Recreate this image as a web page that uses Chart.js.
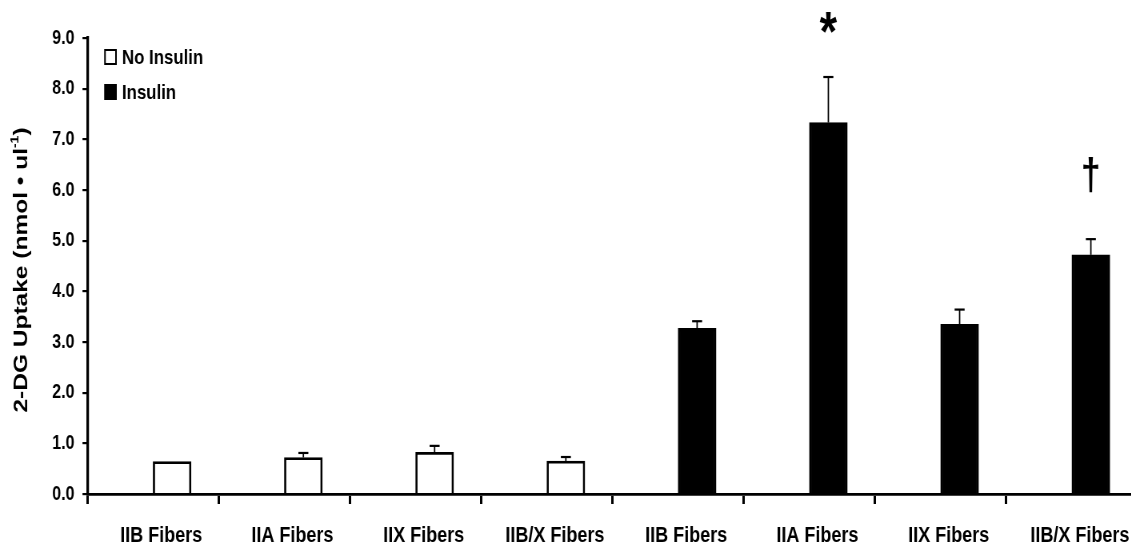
<!DOCTYPE html>
<html>
<head>
<meta charset="utf-8">
<script src="https://cdn.jsdelivr.net/npm/chart.js@4.4.1/dist/chart.umd.min.js"></script>
<style>
  body { margin: 0; background: #fff; overflow: hidden; }
  #wrap { width: 1131px; height: 548px; overflow: hidden; }
  /* figure is laid out wide and squeezed horizontally, like the printed version */
  #stage { width: 1440px; height: 548px; transform: scaleX(0.8); transform-origin: 0 0; }
</style>
</head>
<body>
<div id="wrap"><div id="stage"><canvas id="uptake" width="1440" height="548"></canvas></div></div>
<script>
// fiber groups, first four without insulin, last four with insulin
const fibers = ['IIB Fibers', 'IIA Fibers', 'IIX Fibers', 'IIB/X Fibers',
                'IIB Fibers', 'IIA Fibers', 'IIX Fibers', 'IIB/X Fibers'];

const noInsulin    = [0.64, 0.72, 0.82, 0.65, null, null, null, null];
const noInsulinSem = [0,    0.09, 0.13, 0.08, null, null, null, null];

const insulin    = [null, null, null, null, 3.27, 7.33, 3.35, 4.72];
const insulinSem = [null, null, null, null, 0.14, 0.90, 0.29, 0.31];

// significance marks over the insulin bars
const marks = ['', '', '', '', '', '*', '', '\u2020'];

const yTicks = [0, 1, 2, 3, 4, 5, 6, 7, 8, 9];

const SQ = 0.8;            // horizontal squeeze of #stage
const hx = v => v / SQ;    // horizontal length before the squeeze
const SANS = "'Liberation Sans', Arial, sans-serif";

// empty slot left of each bar, pushes bars right of the category centre
const spacer = fibers.map(() => 0);

const markStyle = {
  '*':      { font: 'bold 56px ' + SANS, lift: 27 },
  '\u2020': { font: 'bold 44px ' + SANS, lift: 50 }
};

const extras = {
  id: 'extras',
  afterDatasetsDraw(chart) {
    const ctx = chart.ctx;
    const ys = chart.scales.y;
    ctx.save();
    ctx.strokeStyle = '#000';
    [[1, noInsulin, noInsulinSem], [2, insulin, insulinSem]].forEach(([di, vals, errs]) => {
      const bars = chart.getDatasetMeta(di).data;
      vals.forEach((v, i) => {
        if (v == null || !errs[i]) return;
        const x = bars[i].x;
        const yBar = ys.getPixelForValue(v);
        const yCap = ys.getPixelForValue(v + errs[i]);
        ctx.lineWidth = hx(1.4);
        ctx.beginPath(); ctx.moveTo(x, yBar); ctx.lineTo(x, yCap); ctx.stroke();
        ctx.lineWidth = 2.2;
        ctx.beginPath(); ctx.moveTo(x - hx(5), yCap); ctx.lineTo(x + hx(5), yCap); ctx.stroke();
      });
    });

    // * and dagger above the error caps
    const ins = chart.getDatasetMeta(2).data;
    ctx.fillStyle = '#000';
    ctx.textAlign = 'center';
    ctx.textBaseline = 'alphabetic';
    marks.forEach((m, i) => {
      if (!m) return;
      const st = markStyle[m];
      const yCap = ys.getPixelForValue(insulin[i] + insulinSem[i]);
      ctx.font = st.font;
      ctx.fillText(m, ins[i].x, yCap - st.lift);
    });
    ctx.restore();
  },
  afterDraw(chart) {
    const ctx = chart.ctx;
    const area = chart.chartArea;
    ctx.save();

    // legend
    ctx.font = 'bold 21px ' + SANS;
    ctx.textBaseline = 'middle';
    ctx.textAlign = 'left';
    ctx.lineWidth = 2;
    ctx.strokeStyle = '#000';
    const legend = [['No Insulin', '#fff', 57], ['Insulin', '#000', 92]];
    legend.forEach(([txt, fill, cy]) => {
      ctx.fillStyle = fill;
      ctx.fillRect(hx(105), cy - 7, hx(11), 14);
      ctx.strokeRect(hx(105), cy - 7, hx(11), 14);
      ctx.fillStyle = '#000';
      ctx.fillText(txt, hx(122), cy + 1);
    });

    // y axis title with superscript
    ctx.translate(hx(22), (area.top + area.bottom) / 2 + 4);
    ctx.rotate(-Math.PI / 2);
    const big = 'bold 24.5px ' + SANS;
    const small = 'bold 14px ' + SANS;
    const parts = [['2-DG Uptake (nmol \u2022 ul', big, 0], ['-1', small, -8], [')', big, 0]];
    let total = 0;
    parts.forEach(([t, f]) => { ctx.font = f; total += ctx.measureText(t).width; });
    let x = -total / 2;
    ctx.textAlign = 'left';
    ctx.textBaseline = 'middle';
    parts.forEach(([t, f, dy]) => {
      ctx.font = f;
      ctx.fillText(t, x, dy);
      x += ctx.measureText(t).width;
    });
    ctx.restore();
  }
};

new Chart(document.getElementById('uptake'), {
  type: 'bar',
  data: {
    labels: fibers,
    datasets: [
      { label: 'spacer', data: spacer, backgroundColor: 'rgba(0,0,0,0)', borderWidth: 0 },
      { label: 'No Insulin', data: noInsulin, backgroundColor: '#fff', borderColor: '#000', borderWidth: 2.7 },
      { label: 'Insulin', data: insulin, backgroundColor: '#000', borderColor: '#000', borderWidth: 2.7 }
    ]
  },
  options: {
    responsive: false,
    animation: false,
    devicePixelRatio: 1,
    skipNull: true,
    barThickness: hx(38),
    layout: { padding: { left: 0, top: 38, right: 1440 - hx(1137.5), bottom: 0 } },
    plugins: { legend: { display: false }, tooltip: { enabled: false } },
    scales: {
      x: {
        offset: true,
        afterFit: s => { s.height = 54; },
        border: { display: true, color: '#000', width: 2.8 },
        grid: { offset: true, drawOnChartArea: false, drawTicks: true, tickLength: 10, color: '#000', lineWidth: hx(2.4) },
        ticks: {
          color: '#000',
          padding: 18,
          labelOffset: hx(8),
          maxRotation: 0,
          autoSkip: false,
          font: { family: SANS, size: 22.5, weight: 'bold' }
        }
      },
      y: {
        min: 0,
        max: 9,
        afterFit: s => { s.width = hx(87.5); },
        afterBuildTicks: s => { s.ticks = yTicks.map(v => ({ value: v })); },
        border: { display: true, color: '#000', width: hx(2.6) },
        grid: { drawOnChartArea: false, drawTicks: true, tickLength: hx(5), color: '#000', lineWidth: 2.2 },
        ticks: {
          color: '#000',
          padding: hx(8),
          callback: v => Number(v).toFixed(1),
          font: { family: SANS, size: 20, weight: 'bold' }
        }
      }
    }
  },
  plugins: [extras]
});
</script>
</body>
</html>
